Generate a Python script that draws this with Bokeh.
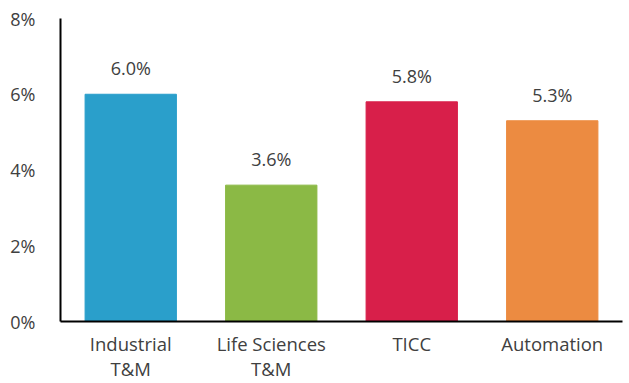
from bokeh.plotting import figure
from bokeh.models import ColumnDataSource, LabelSet, Range1d, FixedTicker, CustomJSTickFormatter
from bokeh.core.properties import value
from bokeh.embed import file_html
from bokeh.resources import INLINE

# Growth by segment
categories = ["Industrial\nT&M", "Life Sciences\nT&M", "TICC", "Automation"]
growth = [6.0, 3.6, 5.8, 5.3]
bar_colors = ["#2A9FCB", "#8BB945", "#D81F4A", "#EC8B41"]
y_ticks = [0, 2, 4, 6, 8]

FONT = "Open Sans"
TEXT = "#404040"

src = ColumnDataSource(dict(
    cat=categories,
    val=growth,
    color=bar_colors,
    label=[f"{v:.1f}%" for v in growth],
))

p = figure(
    x_range=categories, y_range=Range1d(0, 8),
    width=629, height=383, output_backend="svg", toolbar_location=None,
    min_border_left=60, min_border_right=7, min_border_top=18, min_border_bottom=62,
)

p.vbar(x="cat", top="val", width=0.65, color="color", source=src)

p.add_layout(LabelSet(
    x="cat", y="val", text="label", source=src,
    text_align="center", text_baseline="middle", y_offset=26,
    text_font=value(FONT), text_font_size="18px", text_color=TEXT,
))

p.outline_line_color = None
p.grid.grid_line_color = None
p.background_fill_color = "white"
p.border_fill_color = "white"

p.yaxis.ticker = FixedTicker(ticks=y_ticks)
p.yaxis.formatter = CustomJSTickFormatter(code="return tick + '%';")
for ax in (p.xaxis, p.yaxis):
    ax.axis_line_color = "black"
    ax.axis_line_width = 2
    ax.major_tick_line_color = None
    ax.minor_tick_line_color = None
    ax.major_label_text_font = FONT
    ax.major_label_text_color = TEXT
p.yaxis.major_label_text_font_size = "18px"
p.xaxis.major_label_text_font_size = "18.5px"
p.xaxis.major_label_text_line_height = 1.0
p.yaxis.major_label_standoff = 19
p.xaxis.major_label_standoff = 3

open("out.html", "w").write(file_html(p, INLINE))
